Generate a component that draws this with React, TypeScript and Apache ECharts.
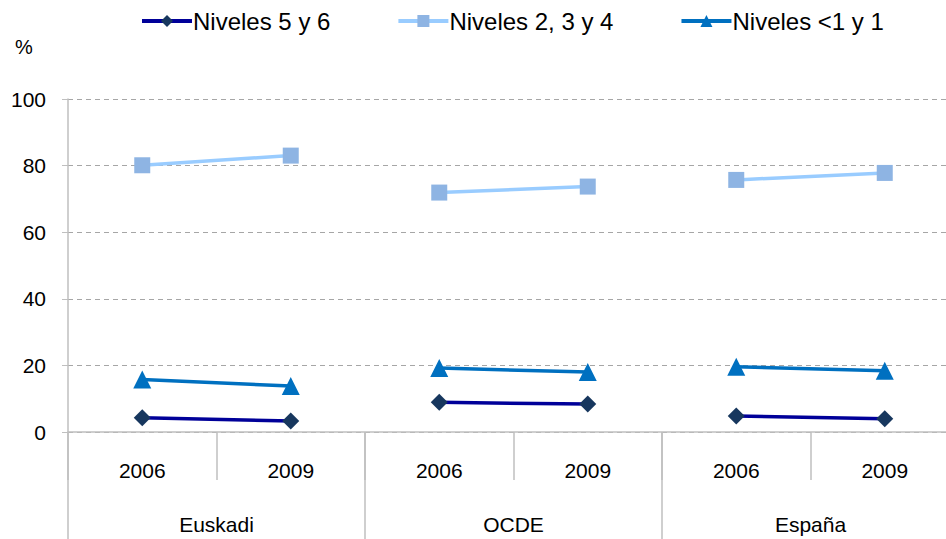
import React, { useEffect, useRef } from "react";
import * as echarts from "echarts";

const years = ["2006", "2009", "2006", "2009", "2006", "2009"];
const groups = ["Euskadi", "OCDE", "España"];
const yTicks = { min: 0, max: 100, interval: 20 };

const nivel56 = [4.3, 3.3, 8.9, 8.4, 4.8, 4.0];
const nivel234 = [80.1, 83.0, 71.9, 73.7, 75.7, 77.8];
const nivel01 = [15.8, 13.8, 19.2, 18.0, 19.6, 18.4];

const seriesDefs = [
  { name: "Niveles 5 y 6", values: nivel56, line: "#000099", marker: "#17375E", symbol: "diamond", size: 17 },
  { name: "Niveles 2, 3 y 4", values: nivel234, line: "#99CCFF", marker: "#8EB4E3", symbol: "rect", size: 16 },
  { name: "Niveles <1 y 1", values: nivel01, line: "#0070C0", marker: "#0070C0", symbol: "triangle", size: 18 },
];

const FONT = "Liberation Sans, Arial, sans-serif";

export default function App() {
  const ref = useRef<HTMLDivElement>(null);
  useEffect(() => {
    if (!ref.current) return;
    const chart = echarts.init(ref.current, undefined, { renderer: "svg" });
    const series: any[] = [];
    seriesDefs.forEach((s) => {
      groups.forEach((_, g) => {
        const data = s.values.map((v, i) => (Math.floor(i / 2) === g ? v : null));
        series.push({
          type: "line",
          name: s.name,
          data,
          xAxisIndex: 0,
          symbol: s.symbol,
          symbolSize: s.size,
          connectNulls: false,
          lineStyle: { color: s.line, width: 3.5 },
          itemStyle: { color: s.marker },
          z: 3,
        });
      });
    });
    chart.setOption({
      animation: false,
      textStyle: { fontFamily: FONT },
      legend: {
        top: 4,
        left: 135,
        itemWidth: 50,
        itemHeight: 15,
        itemGap: 66,
        lineStyle: { width: 4 },
        data: seriesDefs.map((s) => s.name),
        textStyle: { fontSize: 24, color: "#000", fontFamily: FONT, padding: [0, 0, 0, -4] },
      },
      graphic: [
        { type: "text", left: 15, top: 37, style: { text: "%", fontSize: 20, fill: "#000", fontFamily: FONT } },
      ],
      grid: { left: 68, top: 99, bottom: 107, width: 891 },
      xAxis: [
        {
          type: "category",
          data: years,
          boundaryGap: true,
          axisLine: { show: true, lineStyle: { color: "#BFBFBF", width: 1.5 } },
          axisTick: { show: true, length: 48, lineStyle: { color: "#BFBFBF", width: 1.5 } },
          axisLabel: { fontSize: 21, color: "#000", margin: 28, fontFamily: FONT },
        },
        {
          type: "category",
          data: groups,
          position: "bottom",
          boundaryGap: true,
          axisLine: { show: false },
          axisTick: { show: true, length: 120, lineStyle: { color: "#BFBFBF", width: 1.5 } },
          axisLabel: { fontSize: 21, color: "#000", margin: 82, fontFamily: FONT },
        },
      ],
      yAxis: {
        type: "value",
        min: yTicks.min,
        max: yTicks.max,
        interval: yTicks.interval,
        axisLine: { show: true, lineStyle: { color: "#BFBFBF", width: 1.5 } },
        axisTick: { show: true, length: 6, inside: false, lineStyle: { color: "#BFBFBF" } },
        axisLabel: { fontSize: 21, color: "#000", margin: 22, fontFamily: FONT },
        splitLine: { show: true, lineStyle: { color: "#A6A6A6", type: [5, 4], width: 1.2 } },
      },
      series,
    });
    return () => chart.dispose();
  }, []);
  return (
    <div style={{ position: "absolute", left: 0, top: 0, width: 946, height: 539, overflow: "hidden", background: "#fff" }}>
      <div ref={ref} style={{ width: 962, height: 539 }} />
    </div>
  );
}
